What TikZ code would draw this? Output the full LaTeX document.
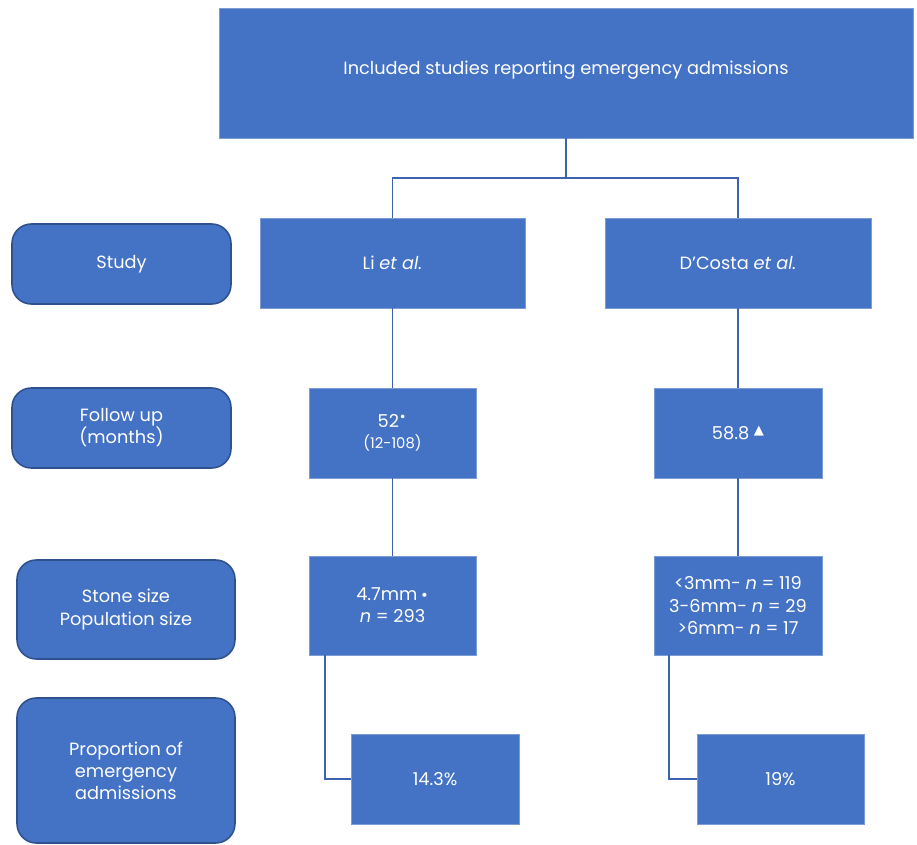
\documentclass[tikz,border=0pt]{standalone}
\usepackage{fontspec}
\setmainfont{Poppins}
\newfontfamily\symfont{DejaVu Sans}
\usetikzlibrary{calc}
\definecolor{boxblue}{HTML}{4472C4}
\definecolor{edgeblue}{HTML}{2F528F}
\definecolor{lineblue}{HTML}{3D63AE}

\begin{document}
\begin{tikzpicture}[x=0.02cm,y=-0.02cm,
        box/.style={draw=boxblue!70!white,line width=0.4pt,fill=boxblue,text=white,
            align=center,inner sep=0pt,font=\fontsize{10.1}{12.6}\selectfont},
        roundbox/.style={box,draw=edgeblue,line width=0.9pt,rounded corners=11pt},
        link/.style={draw=lineblue,line width=1pt}]
                \useasboundingbox (0,0) rectangle (917,845);
                \node [box,minimum width=694*0.02cm,minimum height=130*0.02cm] (top) at (566,73) {\raisebox{0.22cm}{Included studies reporting emergency admissions}};
                \node [roundbox,minimum width=219*0.02cm,minimum height=80*0.02cm] (study) at (121.5,264) {Study};
                \node [roundbox,minimum width=219*0.02cm,minimum height=80*0.02cm] (follow) at (121.5,428) {Follow up\\(months)};
                \node [roundbox,minimum width=218*0.02cm,minimum height=99*0.02cm] (stone) at (126,609.5) {Stone size\\Population size};
                \node [roundbox,minimum width=218*0.02cm,minimum height=145*0.02cm] (prop) at (126,770.5) {Proportion of\\emergency\\admissions};
                \node [box,minimum width=265*0.02cm,minimum height=90*0.02cm] (li) at (392.5,263) {Li \textit{et al.}};
                \node [box,minimum width=266*0.02cm,minimum height=90*0.02cm] (dc) at (738,263) {D\textquoteright Costa \textit{et al.}};
                \node [box,minimum width=167*0.02cm,minimum height=90*0.02cm] (fuli) at (392.5,433) {52\textsuperscript{\symfont•}\\[-1pt]{\fontsize{8.4}{10}\selectfont (12-108)}};
                \node [box,minimum width=168*0.02cm,minimum height=90*0.02cm] (fudc) at (738,433) {58.8 \raisebox{2.5pt}{\symfont\fontsize{7.5}{10}\selectfont ▲}};
                \node [box,minimum width=167*0.02cm,minimum height=99*0.02cm] (ssli) at (392.5,605.5) {4.7mm\,{\symfont\fontsize{8}{10}\selectfont •}\\\textit{n} = 293};
                \node [box,minimum width=168*0.02cm,minimum height=99*0.02cm] (ssdc) at (738,605.5) {<3mm- \textit{n} = 119\\3-6mm- \textit{n} = 29\\>6mm- \textit{n} = 17};
                \node [box,minimum width=168*0.02cm,minimum height=90*0.02cm] (prli) at (435,779) {14.3\%};
                \node [box,minimum width=167*0.02cm,minimum height=90*0.02cm] (prdc) at (780.5,779) {19\%};
                \coordinate (J) at (566,178);
                \draw [link] (top.south)--(J) (li.north)|-(J) (dc.north)|-(J);
                \draw [link] (li)--(fuli)--(ssli) (dc)--(fudc)--(ssdc);
                \draw [link] (ssli.south-|325,0)|-(prli.west) (ssdc.south-|669,0)|-(prdc.west);
            \end{tikzpicture}
\end{document}
